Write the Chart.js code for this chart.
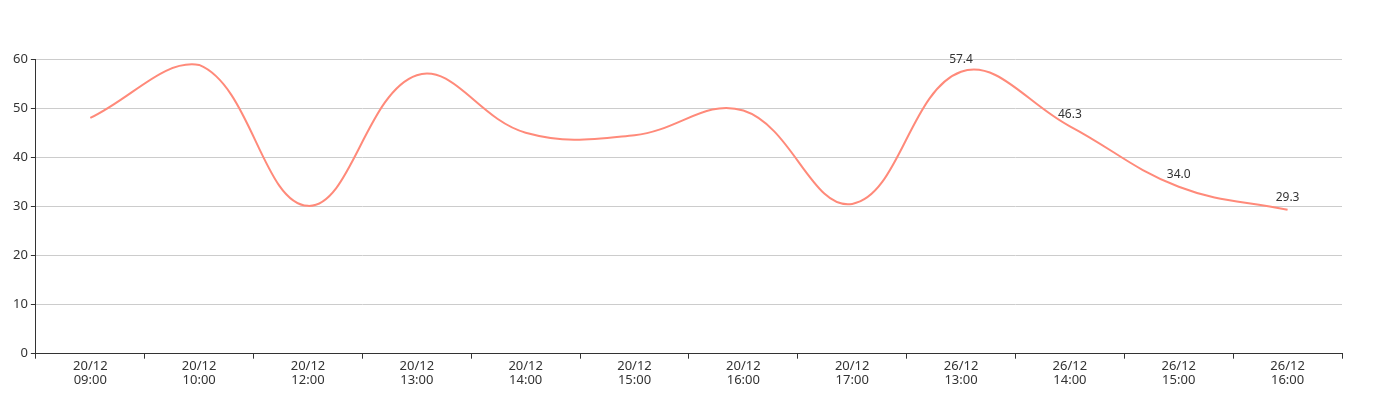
<!DOCTYPE html>
<html>
<head>
<meta charset="utf-8">
<script src="https://cdn.jsdelivr.net/npm/chart.js@4.4.1/dist/chart.umd.min.js"></script>
<style>
  html, body { margin: 0; padding: 0; background: #fff; }
  #wrap { width: 1386px; height: 397px; }
</style>
</head>
<body>
<div id="wrap"><canvas id="lineChart"></canvas></div>
<script>
const dates = ['20/12', '20/12', '20/12', '20/12', '20/12', '20/12', '20/12', '20/12', '26/12', '26/12', '26/12', '26/12'];
const hours = ['09:00', '10:00', '12:00', '13:00', '14:00', '15:00', '16:00', '17:00', '13:00', '14:00', '15:00', '16:00'];
const values = [48.0, 58.8, 30.1, 56.7, 45.0, 44.5, 49.5, 30.5, 57.4, 46.3, 34.0, 29.3];
// only the last few points carry a value label
const labelFrom = 8;

const fontFamily = '"Noto Sans", "Open Sans", sans-serif';

// small plugin to print the values above the last points
const valueLabels = {
    id: 'valueLabels',
    afterDatasetsDraw(chart) {
        const ctx = chart.ctx;
        const meta = chart.getDatasetMeta(0);
        ctx.save();
        ctx.font = '12px ' + fontFamily;
        ctx.fillStyle = '#333';
        ctx.textAlign = 'center';
        ctx.textBaseline = 'bottom';
        meta.data.forEach((pt, i) => {
            if (i < labelFrom) return;
            ctx.fillText(values[i].toFixed(1), pt.x, pt.y - 6);
        });
        ctx.restore();
    }
};

const ctx = document.getElementById('lineChart').getContext('2d');
new Chart(ctx, {
    type: 'line',
    data: {
        labels: dates.map((d, i) => [d, hours[i]]),
        datasets: [{
            data: values,
            borderColor: '#ff8a7a',
            borderWidth: 2,
            tension: 0.4,
            pointRadius: 0,
            fill: false
        }]
    },
    plugins: [valueLabels],
    options: {
        responsive: true,
        maintainAspectRatio: false,
        animation: false,
        layout: { padding: { top: 59, right: 44, left: 10, bottom: 9 } },
        plugins: {
            legend: { display: false },
            tooltip: { enabled: false }
        },
        scales: {
            x: {
                offset: true,
                border: { color: '#333', width: 1 },
                grid: {
                    offset: true,
                    drawOnChartArea: false,
                    drawTicks: true,
                    tickLength: 5,
                    tickColor: '#333'
                },
                ticks: {
                    color: '#333',
                    font: { family: fontFamily, size: 13, lineHeight: 1.05 },
                    maxRotation: 0,
                    autoSkip: false,
                    padding: 1
                }
            },
            y: {
                min: 0,
                max: 60,
                border: { color: '#333', width: 1 },
                grid: {
                    color: '#ccc',
                    tickLength: 5,
                    tickColor: '#333'
                },
                ticks: {
                    stepSize: 10,
                    color: '#333',
                    font: { family: fontFamily, size: 13 },
                    padding: 3
                }
            }
        }
    }
});
</script>
</body>
</html>
